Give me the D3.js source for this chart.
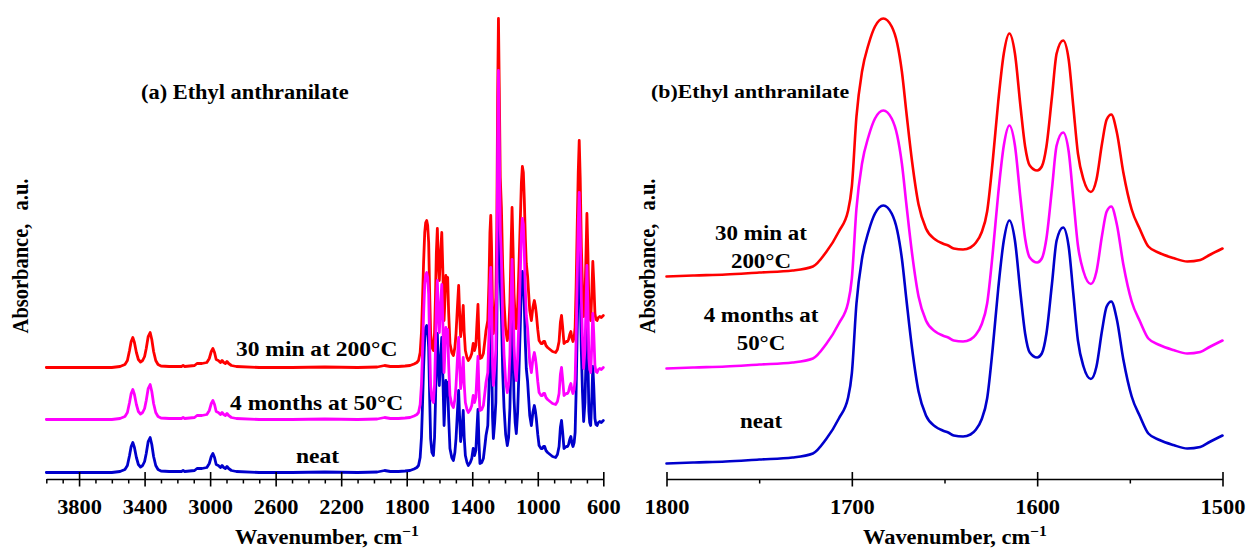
<!DOCTYPE html>
<html>
<head>
<meta charset="utf-8">
<script src="https://cdn.jsdelivr.net/npm/d3@7"></script>
<style>
  body { margin: 0; background: #fff; }
  svg text { font-family: "Liberation Serif", "Times New Roman", serif; font-weight: bold; fill: #000; }
</style>
</head>
<body>
<svg id="chart" width="1251" height="550"></svg>
<script>
// ---------- data ----------
const sampleNames = ["30 min at 200°C", "4 months at 50°C", "neat"];

// Panel (a): 4000–600 cm-1
const wavenumberA = [
  4000, 3800, 3600, 3550, 3520, 3505, 3492, 3482, 3472, 3462,
  3450, 3438, 3425, 3412, 3400, 3390, 3378, 3366, 3356, 3345,
  3332, 3318, 3300, 3250, 3175, 3165, 3155, 3095, 3080, 3050,
  3020, 3005, 2993, 2983, 2973, 2963, 2950, 2937, 2927, 2917,
  2907, 2897, 2887, 2870, 2840, 2700, 2500, 2300, 2100, 1980,
  1935, 1900, 1850, 1810, 1780, 1755, 1738, 1728, 1718, 1710,
  1704, 1697, 1690, 1684, 1678, 1672, 1666, 1660, 1654, 1646,
  1637, 1630, 1625, 1619, 1613, 1607, 1601, 1593, 1586, 1580,
  1572, 1566, 1561, 1556, 1550, 1544, 1536, 1525, 1515, 1506,
  1499, 1489, 1483, 1477, 1471, 1463, 1455, 1449, 1442, 1432,
  1424, 1412, 1403, 1394, 1386, 1378, 1371, 1365, 1359, 1353,
  1342, 1332, 1322, 1316, 1305, 1298, 1292, 1287, 1282, 1276,
  1271, 1263, 1256, 1250, 1245, 1240, 1235, 1229, 1222, 1214,
  1206, 1196, 1186, 1178, 1170, 1163, 1157, 1151, 1145, 1138,
  1131, 1123, 1115, 1107, 1100, 1094, 1088, 1082, 1076, 1070,
  1062, 1056, 1049, 1039, 1030, 1021, 1015, 1009, 1000, 992,
  980, 972, 965, 958, 950, 940, 925, 910, 891, 880,
  870, 862, 855, 848, 840, 833, 826, 818, 812, 805,
  798, 791, 785, 778, 772, 766, 760, 753, 747, 741,
  734, 727, 720, 712, 706, 700, 694, 688, 683, 677,
  670, 664, 658, 651, 645, 638, 630, 622, 612, 600
];
const heatedA = [
  0, 0, 0, 0.01, 0.03, 0.07, 0.17, 0.26, 0.30, 0.25,
  0.15, 0.08, 0.055, 0.07, 0.11, 0.19, 0.31, 0.35, 0.28, 0.16,
  0.07, 0.03, 0.015, 0.01, 0.01, 0.02, 0.01, 0.02, 0.04, 0.04,
  0.05, 0.09, 0.16, 0.19, 0.15, 0.08, 0.07, 0.05, 0.07, 0.05,
  0.04, 0.06, 0.04, 0.02, 0.01, 0, 0, 0.005, 0, 0.005,
  0.02, 0.01, 0.01, 0.015, 0.02, 0.035, 0.05, 0.07, 0.15, 0.35,
  0.65, 1.05, 1.35, 1.45, 1.47, 1.42, 1.25, 0.75, 0.34, 0.20,
  0.17, 0.35, 0.67, 1.15, 1.39, 1.05, 0.87, 1.15, 1.35, 1.00,
  0.47, 0.70, 0.92, 0.80, 0.90, 0.55, 0.24, 0.15, 0.12, 0.20,
  0.34, 0.65, 0.82, 0.55, 0.31, 0.42, 0.62, 0.35, 0.17, 0.10,
  0.07, 0.10, 0.14, 0.24, 0.17, 0.22, 0.45, 0.63, 0.30, 0.09,
  0.10, 0.14, 0.28, 0.37, 0.47, 0.85, 1.35, 1.52, 1.20, 0.55,
  0.34, 0.50, 0.70, 1.40, 2.70, 3.49, 2.80, 1.90, 1.60, 1.00,
  0.65, 0.38, 0.27, 0.35, 0.65, 1.20, 1.60, 1.20, 0.74, 0.50,
  0.39, 0.60, 1.00, 1.45, 1.85, 2.01, 1.95, 1.67, 1.30, 1.04,
  0.91, 0.75, 0.57, 0.47, 0.60, 0.67, 0.62, 0.54, 0.38, 0.27,
  0.24, 0.24, 0.26, 0.26, 0.22, 0.20, 0.18, 0.16, 0.15, 0.18,
  0.26, 0.45, 0.52, 0.40, 0.24, 0.25, 0.26, 0.26, 0.28, 0.33,
  0.36, 0.29, 0.26, 0.30, 0.40, 0.80, 1.34, 1.95, 2.27, 1.90,
  1.21, 0.80, 0.51, 0.70, 1.10, 1.54, 1.15, 0.61, 0.50, 0.47,
  0.75, 1.06, 0.85, 0.54, 0.48, 0.47, 0.50, 0.51, 0.50, 0.52
];
const agedA = [
  0, 0, 0, 0.01, 0.03, 0.07, 0.17, 0.26, 0.30, 0.25,
  0.15, 0.08, 0.055, 0.07, 0.11, 0.19, 0.31, 0.35, 0.28, 0.16,
  0.07, 0.03, 0.015, 0.01, 0.01, 0.02, 0.01, 0.02, 0.04, 0.04,
  0.05, 0.09, 0.16, 0.19, 0.15, 0.08, 0.07, 0.05, 0.07, 0.05,
  0.04, 0.06, 0.04, 0.02, 0.01, 0, 0, 0.005, 0, 0.005,
  0.02, 0.01, 0.01, 0.015, 0.02, 0.035, 0.05, 0.07, 0.15, 0.35,
  0.65, 1.05, 1.35, 1.45, 1.47, 1.42, 1.25, 0.75, 0.34, 0.20,
  0.17, 0.35, 0.67, 1.15, 1.39, 1.05, 0.87, 1.15, 1.35, 1.00,
  0.47, 0.70, 0.92, 0.80, 0.90, 0.55, 0.24, 0.15, 0.12, 0.20,
  0.34, 0.65, 0.82, 0.55, 0.31, 0.42, 0.62, 0.35, 0.17, 0.10,
  0.07, 0.10, 0.14, 0.24, 0.17, 0.22, 0.45, 0.63, 0.30, 0.09,
  0.10, 0.14, 0.28, 0.37, 0.47, 0.85, 1.35, 1.52, 1.20, 0.55,
  0.34, 0.50, 0.70, 1.40, 2.70, 3.49, 2.80, 1.90, 1.60, 1.00,
  0.65, 0.38, 0.27, 0.35, 0.65, 1.20, 1.60, 1.20, 0.74, 0.50,
  0.39, 0.60, 1.00, 1.45, 1.85, 2.01, 1.95, 1.67, 1.30, 1.04,
  0.91, 0.75, 0.57, 0.47, 0.60, 0.67, 0.62, 0.54, 0.38, 0.27,
  0.24, 0.24, 0.26, 0.26, 0.22, 0.20, 0.18, 0.16, 0.15, 0.18,
  0.26, 0.45, 0.52, 0.40, 0.24, 0.25, 0.26, 0.26, 0.28, 0.33,
  0.36, 0.29, 0.26, 0.30, 0.40, 0.80, 1.34, 1.95, 2.27, 1.90,
  1.21, 0.80, 0.51, 0.70, 1.10, 1.54, 1.15, 0.61, 0.50, 0.47,
  0.75, 1.06, 0.85, 0.54, 0.48, 0.47, 0.50, 0.51, 0.50, 0.52
];
const neatA = [
  0, 0, 0, 0.01, 0.03, 0.07, 0.17, 0.26, 0.30, 0.25,
  0.15, 0.08, 0.055, 0.07, 0.11, 0.19, 0.31, 0.35, 0.28, 0.16,
  0.07, 0.03, 0.015, 0.01, 0.01, 0.02, 0.01, 0.02, 0.04, 0.04,
  0.05, 0.09, 0.16, 0.19, 0.15, 0.08, 0.07, 0.05, 0.07, 0.05,
  0.04, 0.06, 0.04, 0.02, 0.01, 0, 0, 0.005, 0, 0.005,
  0.02, 0.01, 0.01, 0.015, 0.02, 0.035, 0.05, 0.07, 0.15, 0.35,
  0.65, 1.05, 1.35, 1.45, 1.47, 1.42, 1.25, 0.75, 0.34, 0.20,
  0.17, 0.35, 0.67, 1.15, 1.39, 1.05, 0.87, 1.15, 1.35, 1.00,
  0.47, 0.70, 0.92, 0.80, 0.90, 0.55, 0.24, 0.15, 0.12, 0.20,
  0.34, 0.65, 0.82, 0.55, 0.31, 0.42, 0.62, 0.35, 0.17, 0.10,
  0.07, 0.10, 0.14, 0.24, 0.17, 0.22, 0.45, 0.63, 0.30, 0.09,
  0.10, 0.14, 0.28, 0.37, 0.47, 0.85, 1.35, 1.52, 1.20, 0.55,
  0.34, 0.50, 0.70, 1.40, 2.70, 3.49, 2.80, 1.90, 1.60, 1.00,
  0.65, 0.38, 0.27, 0.35, 0.65, 1.20, 1.60, 1.20, 0.74, 0.50,
  0.39, 0.60, 1.00, 1.45, 1.85, 2.01, 1.95, 1.67, 1.30, 1.04,
  0.91, 0.75, 0.57, 0.47, 0.60, 0.67, 0.62, 0.54, 0.38, 0.27,
  0.24, 0.24, 0.26, 0.26, 0.22, 0.20, 0.18, 0.16, 0.15, 0.18,
  0.26, 0.45, 0.52, 0.40, 0.24, 0.25, 0.26, 0.26, 0.28, 0.33,
  0.36, 0.29, 0.26, 0.30, 0.40, 0.80, 1.34, 1.95, 2.27, 1.90,
  1.21, 0.80, 0.51, 0.70, 1.10, 1.54, 1.15, 0.61, 0.50, 0.47,
  0.75, 1.06, 0.85, 0.54, 0.48, 0.47, 0.50, 0.51, 0.50, 0.52
];
const majorTicksA = [3800, 3400, 3000, 2600, 2200, 1800, 1400, 1000, 600];
const minorTicksA = [
  4000, 3900, 3700, 3600, 3500, 3300, 3200, 3100, 2900, 2800, 2700,
  2500, 2400, 2300, 2100, 2000, 1900, 1700, 1600, 1500, 1300, 1200,
  1100, 900, 800, 700
];

// Panel (b): carbonyl / ring region 1800–1500 cm-1
const wavenumberB = [
  1800, 1785, 1768, 1750, 1732, 1721, 1714, 1707, 1702, 1700,
  1697.5, 1694.5, 1691, 1687.5, 1683, 1678.5, 1675.5, 1673, 1670.5, 1667.5,
  1664, 1660, 1655, 1651, 1648, 1645, 1640, 1636, 1633, 1630,
  1627, 1624, 1621, 1618, 1615, 1612, 1609, 1606.5, 1604, 1600,
  1597.5, 1595, 1592, 1589.5, 1586, 1583, 1580.5, 1578, 1575, 1571,
  1568, 1565, 1562.5, 1560, 1557, 1553.5, 1549, 1544.5, 1540, 1534,
  1526.5, 1519, 1512, 1507, 1500
];
const heatedB = [
  0.00, 0.01, 0.02, 0.04, 0.06, 0.10, 0.24, 0.45, 0.66, 0.90,
  1.60, 2.05, 2.32, 2.50, 2.58, 2.50, 2.33, 2.05, 1.63, 1.15,
  0.72, 0.48, 0.37, 0.33, 0.31, 0.28, 0.27, 0.29, 0.34, 0.44,
  0.65, 1.15, 1.75, 2.23, 2.43, 2.23, 1.70, 1.30, 1.11, 1.06,
  1.10, 1.30, 1.80, 2.23, 2.36, 2.17, 1.70, 1.23, 0.97, 0.845,
  0.97, 1.33, 1.57, 1.62, 1.44, 1.04, 0.67, 0.47, 0.30, 0.235,
  0.185, 0.15, 0.165, 0.215, 0.28
];
const agedB = [
  0.00, 0.01, 0.02, 0.04, 0.06, 0.10, 0.24, 0.45, 0.66, 0.90,
  1.60, 2.05, 2.32, 2.50, 2.58, 2.50, 2.33, 2.05, 1.63, 1.15,
  0.72, 0.48, 0.37, 0.33, 0.31, 0.28, 0.27, 0.29, 0.34, 0.44,
  0.65, 1.15, 1.75, 2.23, 2.43, 2.23, 1.70, 1.30, 1.11, 1.06,
  1.10, 1.30, 1.80, 2.23, 2.36, 2.17, 1.70, 1.23, 0.97, 0.845,
  0.97, 1.33, 1.57, 1.62, 1.44, 1.04, 0.67, 0.47, 0.30, 0.235,
  0.185, 0.15, 0.165, 0.215, 0.28
];
const neatB = [
  0.00, 0.01, 0.02, 0.04, 0.06, 0.10, 0.24, 0.45, 0.66, 0.90,
  1.60, 2.05, 2.32, 2.50, 2.58, 2.50, 2.33, 2.05, 1.63, 1.15,
  0.72, 0.48, 0.37, 0.33, 0.31, 0.28, 0.27, 0.29, 0.34, 0.44,
  0.65, 1.15, 1.75, 2.23, 2.43, 2.23, 1.70, 1.30, 1.11, 1.06,
  1.10, 1.30, 1.80, 2.23, 2.36, 2.17, 1.70, 1.23, 0.97, 0.845,
  0.97, 1.33, 1.57, 1.62, 1.44, 1.04, 0.67, 0.47, 0.30, 0.235,
  0.185, 0.15, 0.165, 0.215, 0.28
];
const majorTicksB = [1800, 1700, 1600, 1500];
const minorTicksB = [1750, 1650, 1550];

// ---------- layout & style ----------
const colors = { heated: "#ff0000", aged: "#ff00ff", neat: "#0000cc" };
const glyphStretch = 1.12;   // wide Times-style lettering
const svg = d3.select("#chart");

function stretchedText(parent, x, y, str, size, anchor = "middle") {
  return parent.append("text")
    .attr("transform", `translate(${x},${y}) scale(${glyphStretch},1)`)
    .attr("text-anchor", anchor)
    .attr("font-size", size)
    .text(str);
}

function drawPanel(cfg) {
  const g = svg.append("g");
  const x = d3.scaleLinear().domain(cfg.xDomain).range(cfg.xRange);
  const y = d3.scaleLinear().domain(cfg.yDomain).range([cfg.axisY, cfg.top]);
  const line = d3.line().x(d => x(d[0])).y(d => y(d[1])).curve(cfg.curve);

  // spectra, stacked with a vertical display offset
  cfg.series.forEach(s => {
    const pts = cfg.wavenumbers.map((w, i) => [w, s.values[i] + s.offset]);
    g.append("path")
      .datum(pts)
      .attr("d", line)
      .attr("fill", "none")
      .attr("stroke", s.color)
      .attr("stroke-width", cfg.lineWidth)
      .attr("stroke-linejoin", "round")
      .attr("stroke-linecap", "round");
  });

  // minor ticks (outside)
  const minor = g.append("g")
    .attr("transform", `translate(0,${cfg.axisY})`)
    .call(d3.axisBottom(x).tickValues(cfg.minorTicks).tickSize(4.5).tickFormat(""));
  minor.select(".domain").remove();
  minor.selectAll(".tick line").attr("stroke-width", 1.5);

  // major ticks (crossing) with labels
  const major = g.append("g")
    .attr("transform", `translate(0,${cfg.axisY})`)
    .attr("font-family", null).attr("font-size", null)
    .call(d3.axisBottom(x).tickValues(cfg.majorTicks).tickFormat(d3.format("d")).tickSizeOuter(0));
  major.select(".domain").attr("stroke-width", 1.6).attr("stroke", "#000");
  major.selectAll(".tick line").attr("y1", -7).attr("y2", 7.5).attr("stroke-width", 1.6);
  major.selectAll(".tick text")
    .attr("y", 35).attr("dy", 0)
    .attr("font-size", 20)
    .attr("transform", `scale(${glyphStretch},1)`);

  // axis titles
  const xt = g.append("text")
    .attr("transform", `translate(${cfg.xTitleX},544) scale(${glyphStretch},1)`)
    .attr("text-anchor", "middle").attr("font-size", 20);
  xt.append("tspan").text("Wavenumber, cm");
  xt.append("tspan").attr("dy", -8).attr("font-size", 14).text("−1");

  g.append("text")
    .attr("transform", `translate(${cfg.yTitleX},256) rotate(-90) scale(1,${glyphStretch})`)
    .attr("text-anchor", "middle").attr("font-size", 20.5)
    .attr("word-spacing", 8)
    .text("Absorbance, a.u.");

  return g;
}

// Panel (a)
const gA = drawPanel({
  xDomain: [4000, 600], xRange: [46.3, 603.3],
  yDomain: [-0.065, 4.655], top: 7, axisY: 479,
  curve: d3.curveLinear, lineWidth: 2.8,
  wavenumbers: wavenumberA,
  series: [
    { values: heatedA, offset: 1.05, color: colors.heated },
    { values: neatA, offset: 0, color: colors.neat },
    { values: agedA, offset: 0.53, color: colors.aged }
  ],
  majorTicks: majorTicksA, minorTicks: minorTicksA,
  xTitleX: 327, yTitleX: 27.5
});
stretchedText(gA, 141, 99, "(a) Ethyl anthranilate", 20, "start");
stretchedText(gA, 316.7, 356, sampleNames[0], 21);
stretchedText(gA, 316.7, 410, sampleNames[1], 21);
stretchedText(gA, 317.5, 463, sampleNames[2], 21);

// Panel (b)
const gB = drawPanel({
  xDomain: [1800, 1500], xRange: [666.5, 1222.5],
  yDomain: [-0.155, 4.545], top: 9, axisY: 479,
  curve: d3.curveMonotoneX, lineWidth: 2.6,
  wavenumbers: wavenumberB,
  series: [
    { values: heatedB, offset: 1.87, color: colors.heated },
    { values: neatB, offset: 0, color: colors.neat },
    { values: agedB, offset: 0.95, color: colors.aged }
  ],
  majorTicks: majorTicksB, minorTicks: minorTicksB,
  xTitleX: 955, yTitleX: 655
});
stretchedText(gB, 651, 98, "(b)Ethyl anthranilate", 19.5, "start");
stretchedText(gB, 761, 240, "30 min at", 20.5);
stretchedText(gB, 761, 268, "200°C", 20.5);
stretchedText(gB, 761, 321.7, "4 months at", 20.5);
stretchedText(gB, 761, 350, "50°C", 20.5);
stretchedText(gB, 761, 428, sampleNames[2], 20.5);
</script>
</body>
</html>
